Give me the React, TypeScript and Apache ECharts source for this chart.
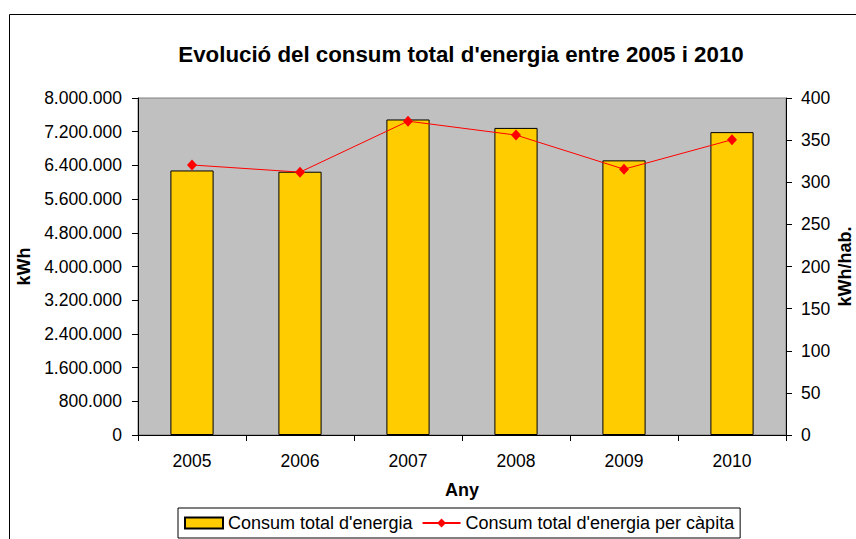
import React, { useEffect, useRef } from "react";
import * as echarts from "echarts";

const categories = ["2005", "2006", "2007", "2008", "2009", "2010"];
const totalConsumption = [6280000, 6250000, 7490000, 7290000, 6520000, 7190000];
const perCapita = [320.5, 312, 372.5, 356, 315.5, 350.5];

const FONT = "'Liberation Sans', Arial, sans-serif";

const fmtThousands = (v: number) =>
  Math.round(v).toString().replace(/\B(?=(\d{3})+(?!\d))/g, ".");

export default function App() {
  const ref = useRef<HTMLDivElement>(null);
  useEffect(() => {
    if (!ref.current) return;
    const chart = echarts.init(ref.current, null, { renderer: "svg" });
    chart.setOption({
      animation: false,
      backgroundColor: "#ffffff",
      textStyle: { fontFamily: FONT, color: "#000" },
      title: {
        text: "Evolució del consum total d'energia entre 2005 i 2010",
        left: 456,
        textAlign: "center",
        top: 38,
        textStyle: { fontFamily: FONT, fontSize: 22.3, fontWeight: "bold", color: "#000" },
      },
      graphic: [
        {
          type: "rect",
          shape: { x: 9.5, y: 14.5, width: 900, height: 600 },
          style: { fill: "none", stroke: "#000", lineWidth: 1 },
          z: -10,
        },
      ],
      grid: {
        left: 138,
        top: 98,
        right: 70,
        bottom: 104,
        containLabel: false,
        outerBoundsMode: "none",
        show: true,
        backgroundColor: "#C0C0C0",
        borderColor: "#808080",
        borderWidth: 1,
      },
      legend: {
        left: 178,
        top: 508,
        padding: [6, 6, 6, 6],
        itemGap: 9,
        itemWidth: 38,
        itemHeight: 11,
        borderColor: "#000",
        borderWidth: 1,
        borderRadius: 0,
        textStyle: { fontFamily: FONT, fontSize: 18, color: "#000" },
        data: [
          { name: "Consum total d'energia", icon: "rect" },
          { name: "Consum total d'energia per càpita" },
        ],
      },
      xAxis: {
        type: "category",
        data: categories,
        name: "Any",
        nameLocation: "middle",
        nameGap: 46,
        nameTextStyle: { fontFamily: FONT, fontSize: 18, fontWeight: "bold", color: "#000" },
        axisLine: { lineStyle: { color: "#000", width: 1 } },
        axisTick: { show: true, length: 6, lineStyle: { color: "#000" } },
        axisLabel: { fontFamily: FONT, fontSize: 17.5, color: "#000", margin: 17 },
        splitLine: { show: false },
      },
      yAxis: [
        {
          type: "value",
          min: 0,
          max: 8000000,
          interval: 800000,
          name: "kWh",
          nameLocation: "middle",
          nameRotate: 90,
          nameGap: 96,
          nameTextStyle: { fontFamily: FONT, fontSize: 18, fontWeight: "bold", color: "#000" },
          axisLine: { show: true, lineStyle: { color: "#000", width: 1 } },
          axisTick: { show: true, length: 6, lineStyle: { color: "#000" } },
          axisLabel: {
            fontFamily: FONT,
            fontSize: 17.5,
            color: "#000",
            margin: 16,
            formatter: (v: number) => fmtThousands(v),
          },
          splitLine: { show: false },
        },
        {
          type: "value",
          min: 0,
          max: 400,
          interval: 50,
          position: "right",
          name: "kWh/hab.",
          nameLocation: "middle",
          nameRotate: 90,
          nameGap: 50,
          nameMoveOverlap: false,
          nameTextStyle: { fontFamily: FONT, fontSize: 18, fontWeight: "bold", color: "#000" },
          axisLine: { show: true, lineStyle: { color: "#000", width: 1 } },
          axisTick: { show: true, length: 6, lineStyle: { color: "#000" } },
          axisLabel: { fontFamily: FONT, fontSize: 17.5, color: "#000", margin: 15 },
          splitLine: { show: false },
        },
      ],
      series: [
        {
          name: "Consum total d'energia",
          type: "bar",
          yAxisIndex: 0,
          data: totalConsumption,
          barWidth: "40%",
          itemStyle: { color: "#FFCC00", borderColor: "#000", borderWidth: 1 },
        },
        {
          name: "Consum total d'energia per càpita",
          type: "line",
          yAxisIndex: 1,
          data: perCapita,
          symbol: "diamond",
          symbolSize: [10, 11],
          lineStyle: { color: "#FF0000", width: 1 },
          itemStyle: { color: "#FF0000" },
        },
      ],
    });
    return () => chart.dispose();
  }, []);
  return (
    <div
      ref={ref}
      style={{ position: "fixed", left: 0, top: 0, width: 856, height: 539 }}
    />
  );
}
